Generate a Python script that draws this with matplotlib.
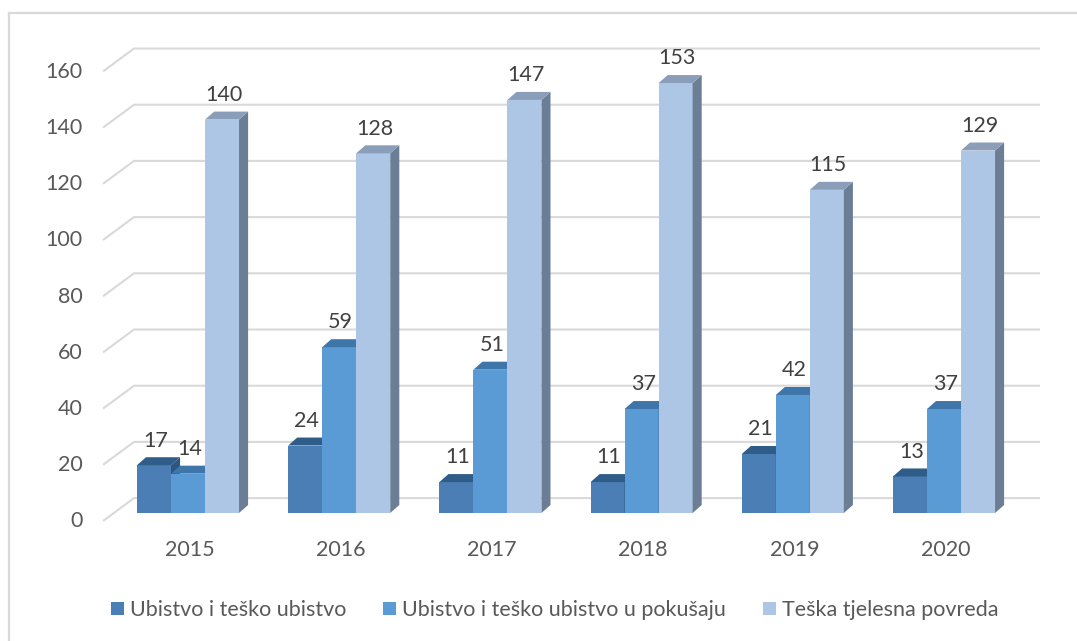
import numpy as np
import matplotlib
matplotlib.use("Agg")
from matplotlib import pyplot as plt
from matplotlib.patches import Polygon
from matplotlib.lines import Line2D

years = ["2015", "2016", "2017", "2018", "2019", "2020"]
series_names = [
    "Ubistvo i teško ubistvo",
    "Ubistvo i teško ubistvo u pokušaju",
    "Teška tjelesna povreda",
]
ubistvo = [17, 24, 11, 11, 21, 13]
pokusaj = [14, 59, 51, 37, 42, 37]
povreda = [140, 128, 147, 153, 115, 129]
y_ticks = [0, 20, 40, 60, 80, 100, 120, 140, 160]

# front, top, side colours per series (Excel-ish 3D shading)
front_colors = ["#4A7EB4", "#5B9BD5", "#ADC6E5"]
top_colors = ["#2F5C88", "#3F76AA", "#8A9EBA"]
side_colors = ["#2C5680", "#3A6C9C", "#6B7E95"]
text_color = "#595959"
grid_color = "#D9D9D9"

plt.rcParams["font.family"] = ["Lato", "DejaVu Sans"]
FS = 15.5

fig = plt.figure(figsize=(10.77, 6.41), dpi=100)
ax = fig.add_axes([0, 0, 1, 1])
ax.set_xlim(-1.2434, 5.8796)
ax.set_ylim(-45.55, 182.56)
ax.axis("off")

# 3D depth offsets in data units
bar_w = 0.225
depth_x = 0.06
depth_y = 2.85
wall_x0, wall_x1, wall_right = -0.562, -0.357, 5.635
front_dy, back_dy = -2.85, 5.3

# outer frame (cropped at right/bottom)
fig.add_artist(Line2D([0.0088, 1.0], [0.9797, 0.9797], color=grid_color, lw=1.6))
fig.add_artist(Line2D([0.0088, 0.0088], [0.0, 0.9797], color=grid_color, lw=1.6))

# perspective gridlines + tick labels
for v in y_ticks:
    ax.plot([wall_x0, wall_x1, wall_right], [v + front_dy, v + back_dy, v + back_dy],
            color=grid_color, lw=1.5, zorder=1, solid_capstyle="butt")
    ax.text(wall_x0 - 0.135, v - 3, str(v), ha="right", va="center",
            fontsize=FS, color=text_color)

x = np.arange(len(years))
all_series = [ubistvo, pokusaj, povreda]
handles = []
for k, vals in enumerate(all_series):
    pos = x + (k - 1) * bar_w
    z = 3 + 2 * k
    bars = ax.bar(pos, vals, width=bar_w, color=front_colors[k], zorder=z,
                  label=series_names[k], linewidth=0)
    handles.append(bars)
    for b, v in zip(bars, vals):
        x0 = b.get_x()
        x1 = x0 + b.get_width()
        top = Polygon([(x0, v), (x0 + depth_x, v + depth_y), (x1 + depth_x, v + depth_y), (x1, v)],
                      closed=True, facecolor=top_colors[k], edgecolor="none", zorder=z + 1)
        side = Polygon([(x1, 0), (x1 + depth_x, depth_y), (x1 + depth_x, v + depth_y), (x1, v)],
                       closed=True, facecolor=side_colors[k], edgecolor="none", zorder=z + 1)
        ax.add_patch(side)
        ax.add_patch(top)
        ax.text(x0 + b.get_width() / 2 + 0.01, v + 8.8, str(v), ha="center", va="center",
                fontsize=FS, color="#404040", zorder=20)

for i, yr in enumerate(years):
    ax.text(i + 0.01, -13.2, yr, ha="center", va="center", fontsize=FS, color=text_color)

leg = fig.legend(handles=handles, labels=series_names, loc="center",
                 bbox_to_anchor=(0.515, 0.048), ncol=3, frameon=False,
                 fontsize=FS, handlelength=0.6, handleheight=0.6,
                 handletextpad=0.3, columnspacing=1.7, labelcolor=text_color)

fig.savefig("out.png", dpi=100)
